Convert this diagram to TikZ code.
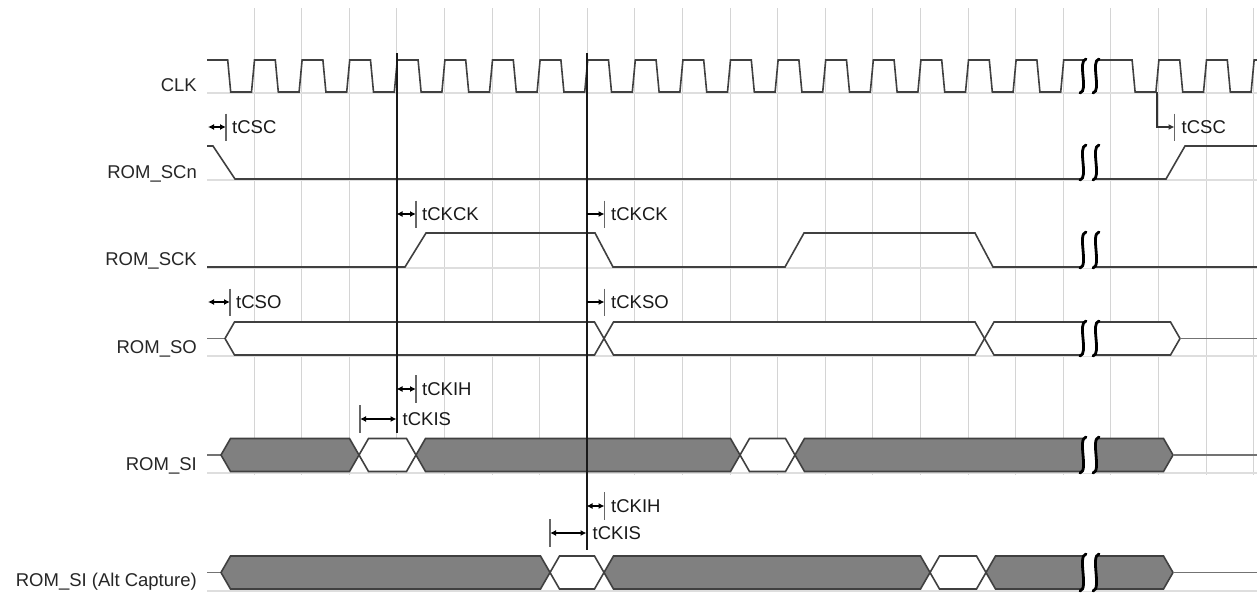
\documentclass[tikz,border=0pt]{standalone}
\usepackage{fontspec}
\setmainfont{Liberation Sans}
\usetikzlibrary{arrows.meta,positioning}

% one data cell: left x, right x, middle y, fill
\newcommand{\busseg}[4]{%
  \filldraw[sig, fill=#4] (#1,#3) -- ({#1+9.5},{#3-16.5}) -- ({#2-9.5},{#3-16.5})
    -- (#2,#3) -- ({#2-9.5},{#3+16.5}) -- ({#1+9.5},{#3+16.5}) -- cycle;}
% break marks: top y, bottom y
\newcommand{\gapmark}[2]{%
  \fill[white] (1086,#1) .. controls (1077,{#1+2}) and (1089,{#2-2}) .. (1080,#2) -- (1093,#2)
    .. controls (1102,{#2-2}) and (1090,{#1+2}) .. (1099,#1) -- cycle;
  \draw[gapline] (1086,#1) .. controls (1077,{#1+2}) and (1089,{#2-2}) .. (1080,#2);
  \draw[gapline] (1099,#1) .. controls (1090,{#1+2}) and (1102,{#2-2}) .. (1093,#2);}

\begin{document}
\begin{tikzpicture}[
  x=1pt, y=-1pt,
  grid/.style={draw=black!17, line width=1pt},
  base/.style={draw=black!13, line width=1.6pt},
  sig/.style={draw=black!75, line width=1.6pt, line join=miter},
  stub/.style={draw=black!55, line width=1.5pt},
  marker/.style={draw=black!90, line width=2pt},
  gapline/.style={draw=black, line width=2.8pt, line cap=round},
  bar/.style={draw=black!60, line width=1.6pt},
  dim/.style={{Latex[length=6pt,width=6pt]}-{Latex[length=6pt,width=6pt]}, line width=1.2pt},
  dimr/.style={-{Latex[length=6pt,width=6pt]}, line width=1.2pt},
  lab/.style={anchor=base east, inner sep=0pt, text=black!85, font=\fontsize{18.5}{20}\selectfont},
  tlab/.style={inner sep=0pt, text=black!90, font=\fontsize{18.5}{20}\selectfont}
]
  \useasboundingbox (0,0) rectangle (1257,597);

  % grid and lane base lines
  \foreach \k in {1,...,22}
    \draw[grid] ({206.4+47.6*\k},8) -- ({206.4+47.6*\k},475);
  \foreach \y in {93,180,268,356,473,591}
    \draw[base] (207,\y) -- (1257,\y);

  % signal names
  \node[lab] (clk) at (197,91) {CLK};
  \node[lab] (scn) at (197,178) {ROM\_SCn};
  \node[lab] (sck) at (197,265.5) {ROM\_SCK};
  \node[lab] (so) at (197,353) {ROM\_SO};
  \node[lab] (si) at (197,470.5) {ROM\_SI};
  \node[lab] (sialt) at (197,586.5) {ROM\_SI (Alt Capture)};

  % CLK
  \draw[sig] (207,60) \foreach \k in {0,...,17} {
      -- ({206.4+47.6*\k+21.3},60) -- ({206.4+47.6*\k+24.3},92)
      -- ({206.4+47.6*\k+45.1},92) -- ({206.4+47.6*\k+48.1},60) }
    -- (1132.1,60) -- (1135.1,92) -- (1155.9,92) -- (1158.9,60)
    \foreach \k in {20,21} {
      -- ({206.4+47.6*\k+21.3},60) -- ({206.4+47.6*\k+24.3},92)
      -- ({206.4+47.6*\k+45.1},92) -- ({206.4+47.6*\k+48.1},60) }
    -- (1257,60);

  % ROM_SCn
  \draw[sig] (207,146) -- (213,146) -- (235,179) -- (1166,179) -- (1185,146) -- (1257,146);

  % ROM_SCK
  \draw[sig] (207,267) -- (405,267) -- (426,233) -- (595,233) -- (613,267)
    -- (785,267) -- (804,233) -- (975,233) -- (993,267) -- (1257,267);

  % ROM_SO
  \draw[stub] (207,338.5) -- (225,338.5);
  \busseg{225}{604}{338.5}{white}
  \busseg{604}{984.5}{338.5}{white}
  \busseg{984.5}{1180}{338.5}{white}
  \draw[stub] (1180,338.5) -- (1257,338.5);

  % ROM_SI
  \draw[stub] (207,455) -- (221,455);
  \busseg{221}{359}{455}{black!50}
  \busseg{359}{416}{455}{white}
  \busseg{416}{740}{455}{black!50}
  \busseg{740}{795}{455}{white}
  \busseg{795}{1173}{455}{black!50}
  \draw[stub] (1173,455) -- (1257,455);

  % ROM_SI (Alt Capture)
  \draw[stub] (207,572.5) -- (221,572.5);
  \busseg{221}{550}{572.5}{black!50}
  \busseg{550}{604}{572.5}{white}
  \busseg{604}{930}{572.5}{black!50}
  \busseg{930}{986}{572.5}{white}
  \busseg{986}{1173}{572.5}{black!50}
  \draw[stub] (1173,572.5) -- (1257,572.5);

  % breaks
  \gapmark{59}{93}
  \gapmark{145}{180}
  \gapmark{232}{268}
  \gapmark{321}{356}
  \gapmark{437}{473}
  \gapmark{554}{591}

  % capture edges
  \coordinate (edgeA top) at (396.5,53);
  \coordinate (edgeA bot) at (396.5,433);
  \coordinate (edgeB top) at (586.5,53);
  \coordinate (edgeB bot) at (586.5,550);
  \draw[marker] (edgeA top) -- (edgeA bot);
  \draw[marker] (edgeB top) -- (edgeB bot);

  % timing marks
  \coordinate (csc start) at (208,127);
  \coordinate (csc bar) at (226,127);
  \node[tlab, right=6pt of csc bar] (tcsc) {tCSC};
  \draw[dim] (csc start) -- (csc bar);
  \draw[bar] ([yshift=13.5pt]csc bar) -- ([yshift=-13.5pt]csc bar);

  \coordinate (csc2 start) at (1157,92);
  \coordinate (csc2 bar) at (1174.5,127);
  \node[tlab, right=7pt of csc2 bar] (tcsc2) {tCSC};
  \draw[dimr, draw=black!80] (csc2 start) |- (csc2 bar);
  \draw[bar] ([yshift=13.5pt]csc2 bar) -- ([yshift=-13.5pt]csc2 bar);

  \coordinate (ckck start) at (396.5,214);
  \coordinate (ckck bar) at (416,214);
  \node[tlab, right=6pt of ckck bar] (tckck) {tCKCK};
  \draw[dim] (ckck start) -- (ckck bar);
  \draw[bar] ([yshift=13.5pt]ckck bar) -- ([yshift=-13.5pt]ckck bar);

  \coordinate (ckck2 start) at (586.5,214);
  \coordinate (ckck2 bar) at (604.5,214);
  \node[tlab, right=6.5pt of ckck2 bar] (tckck2) {tCKCK};
  \draw[dimr] (ckck2 start) -- (ckck2 bar);
  \draw[bar] ([yshift=13.5pt]ckck2 bar) -- ([yshift=-13.5pt]ckck2 bar);

  \coordinate (cso start) at (208,302);
  \coordinate (cso bar) at (230,302);
  \node[tlab, right=6pt of cso bar] (tcso) {tCSO};
  \draw[dim] (cso start) -- (cso bar);
  \draw[bar] ([yshift=13.5pt]cso bar) -- ([yshift=-13.5pt]cso bar);

  \coordinate (ckso start) at (586.5,302);
  \coordinate (ckso bar) at (604.5,302);
  \node[tlab, right=6.5pt of ckso bar] (tckso) {tCKSO};
  \draw[dimr] (ckso start) -- (ckso bar);
  \draw[bar] ([yshift=13.5pt]ckso bar) -- ([yshift=-13.5pt]ckso bar);

  \coordinate (ckih start) at (396.5,389);
  \coordinate (ckih bar) at (416,389);
  \node[tlab, right=6pt of ckih bar] (tckih) {tCKIH};
  \draw[dim] (ckih start) -- (ckih bar);
  \draw[bar] ([yshift=14pt]ckih bar) -- ([yshift=-14pt]ckih bar);

  \coordinate (ckis bar) at (360,419);
  \coordinate (ckis end) at (396.5,419);
  \node[tlab, right=6pt of ckis end] (tckis) {tCKIS};
  \draw[dim] (ckis bar) -- (ckis end);
  \draw[bar] ([yshift=14pt]ckis bar) -- ([yshift=-14pt]ckis bar);

  \coordinate (ckih2 start) at (586.5,506);
  \coordinate (ckih2 bar) at (604.5,506);
  \node[tlab, right=6.5pt of ckih2 bar] (tckih2) {tCKIH};
  \draw[dim] (ckih2 start) -- (ckih2 bar);
  \draw[bar] ([yshift=14pt]ckih2 bar) -- ([yshift=-14pt]ckih2 bar);

  \coordinate (ckis2 bar) at (550,533);
  \coordinate (ckis2 end) at (586.5,533);
  \node[tlab, right=6pt of ckis2 end] (tckis2) {tCKIS};
  \draw[dim] (ckis2 bar) -- (ckis2 end);
  \draw[bar] ([yshift=14pt]ckis2 bar) -- ([yshift=-14pt]ckis2 bar);
\end{tikzpicture}
\end{document}
